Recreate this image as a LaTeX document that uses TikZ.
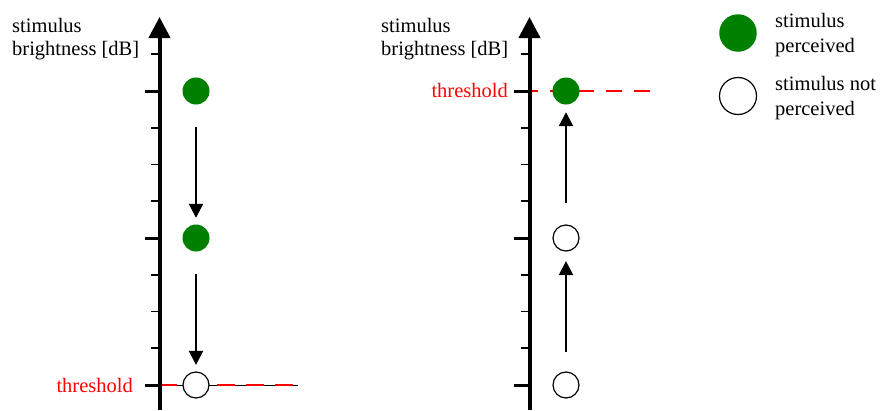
\documentclass[tikz,border=0pt]{standalone}
\usepackage{fontspec}
\setmainfont{Liberation Serif}
\usetikzlibrary{arrows.meta}

\definecolor{percgreen}{RGB}{0,128,0}

\tikzset{
  seen/.style={circle, fill=percgreen, inner sep=0pt, minimum size=27pt},
  unseen/.style={circle, draw=black, line width=1.2pt, fill=white, inner sep=0pt, minimum size=26pt},
  axisline/.style={line width=4pt, -{Triangle[length=21pt,width=21pt]}},
  majortick/.style={line width=3pt},
  minortick/.style={line width=1.5pt},
  trial/.style={line width=2.2pt, -{Triangle[length=14pt,width=14pt]}},
  thresh/.style={red, line width=2pt, dash pattern=on 18pt off 11pt},
  txt/.style={font=\fontsize{20.5}{23}\selectfont, inner sep=0pt, align=left},
}

\begin{document}
\begin{tikzpicture}[x=1pt, y=-1pt]
  \useasboundingbox (0,0) rectangle (893,410);

  % threshold lines (under the axes)
  \coordinate (lthrA) at (159,385);
  \coordinate (lthrB) at (298,385);
  \coordinate (rthrA) at (522,91);
  \coordinate (rthrB) at (652,91);
  \draw[line width=0.7pt] (lthrA) -- (lthrB);
  \draw[thresh] (lthrA) -- (lthrB);
  \draw[thresh, dash pattern=on 16pt off 12pt] (rthrA) -- (rthrB);

  % left axis
  \draw[axisline] (159.5,410) -- (159.5,17);
  \draw[majortick] (145,91) -- (159.5,91);
  \draw[majortick] (145,238) -- (159.5,238);
  \draw[majortick] (145,385) -- (159.5,385);
  \draw[minortick] (151,54) -- (159.5,54);
  \draw[minortick] (151,128) -- (159.5,128);
  \draw[minortick] (151,164.5) -- (159.5,164.5);
  \draw[minortick] (151,201) -- (159.5,201);
  \draw[minortick] (151,275) -- (159.5,275);
  \draw[minortick] (151,311.5) -- (159.5,311.5);
  \draw[minortick] (151,348) -- (159.5,348);

  % right axis
  \draw[axisline] (529.5,410) -- (529.5,17);
  \draw[majortick] (514,91) -- (529.5,91);
  \draw[majortick] (514,238) -- (529.5,238);
  \draw[majortick] (514,385) -- (529.5,385);
  \draw[minortick] (521,54) -- (529.5,54);
  \draw[minortick] (521,128) -- (529.5,128);
  \draw[minortick] (521,164.5) -- (529.5,164.5);
  \draw[minortick] (521,201) -- (529.5,201);
  \draw[minortick] (521,275) -- (529.5,275);
  \draw[minortick] (521,311.5) -- (529.5,311.5);
  \draw[minortick] (521,348) -- (529.5,348);

  % descending series
  \node[seen] (l1) at (196,91) {};
  \node[seen] (l2) at (196,238) {};
  \node[unseen] (l3) at (196,385) {};
  \draw[trial, shorten <=22.5pt, shorten >=6.5pt] (l1) -- (l2);
  \draw[trial, shorten <=22.5pt, shorten >=6.5pt] (l2) -- (l3);

  % ascending series
  \node[unseen] (r1) at (566,385) {};
  \node[unseen] (r2) at (566,238) {};
  \node[seen] (r3) at (566,91) {};
  \draw[trial, shorten <=19.5pt, shorten >=9.5pt] (r1) -- (r2);
  \draw[trial, shorten <=21.5pt, shorten >=7.5pt] (r2) -- (r3);

  % axis labels (base = last line)
  \node[txt, anchor=base west] (lylab) at (12,55) {stimulus\\brightness [dB]};
  \node[txt, anchor=base west] (rylab) at (381,55) {stimulus\\brightness [dB]};
  \node[txt, text=red, anchor=base east] (lthrlab) at (133,392) {threshold};
  \node[txt, text=red, anchor=base east] (rthrlab) at (508,97) {threshold};

  % legend
  \node[seen, minimum size=37.5pt] (lgseen) at (738,33) {};
  \node[unseen, minimum size=37pt] (lgunseen) at (738,96) {};
  \node[txt, font=\fontsize{20.5}{25}\selectfont, anchor=base west] (lgseentxt) at (775,52) {stimulus\\perceived};
  \node[txt, font=\fontsize{20.5}{25}\selectfont, anchor=base west] (lgunseentxt) at (775,115) {stimulus not\\perceived};
\end{tikzpicture}
\end{document}
